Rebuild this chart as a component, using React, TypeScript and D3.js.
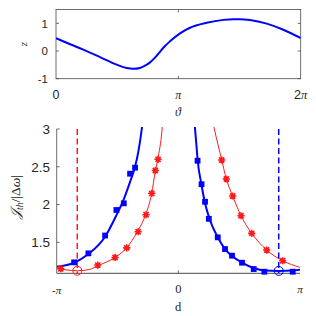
import * as d3 from "d3";

// top panel: z(θ)
const thetaVals = [0, 0.274, 0.702, 1.13, 1.558, 1.815, 1.985, 2.157, 2.285, 2.414, 2.542, 2.67, 2.799, 2.927, 3.184, 3.441, 3.87, 4.296, 4.555, 4.724, 4.98, 5.41, 5.837, 6.283];
const zVals = [0.46, 0.3, 0.05, -0.218, -0.493, -0.615, -0.64, -0.61, -0.53, -0.41, -0.24, -0.03, 0.18, 0.35, 0.64, 0.84, 1.02, 1.125, 1.15, 1.15, 1.12, 0.99, 0.77, 0.468];

// bottom panel: theory curves
const blueLeftD = [-3.142, -2.692, -2.323, -1.892, -1.608, -1.402, -1.247, -1.118, -1.033, -0.945, -0.9];
const blueLeftV = [1.177, 1.23, 1.345, 1.574, 1.85, 2.08, 2.3, 2.5, 2.7, 3.0, 3.2];
const blueRightD = [0.4, 0.431, 0.466, 0.5, 0.594, 0.681, 0.8, 1.017, 1.205, 1.386, 1.644, 1.946, 2.22, 2.592, 2.953, 3.142];
const blueRightV = [3.2, 3.0, 2.79, 2.58, 2.272, 2.037, 1.818, 1.566, 1.411, 1.319, 1.232, 1.16, 1.127, 1.122, 1.127, 1.136];
const redLeftD = [-3.142, -2.9, -2.61, -2.3, -2.08, -1.634, -1.332, -1.06, -0.843, -0.687, -0.602, -0.532, -0.42, -0.39];
const redLeftV = [1.16, 1.135, 1.124, 1.14, 1.19, 1.3, 1.43, 1.64, 1.87, 2.15, 2.42, 2.6, 3.0, 3.2];
const redRightD = [0.88, 0.93, 1.12, 1.239, 1.404, 1.618, 1.895, 2.282, 2.695, 3.142];
const redRightV = [3.12, 3.0, 2.59, 2.338, 2.113, 1.852, 1.619, 1.398, 1.256, 1.169];

// bottom panel: simulation markers
const squareD = [-2.692, -2.323, -1.892, -1.6, -1.409, -1.247, -1.118, 0.496, 0.599, 0.689, 0.787, 1.017, 1.205, 1.386, 1.644, 1.946, 2.22, 2.953];
const squareV = [1.235, 1.354, 1.59, 1.928, 2.016, 2.408, 2.488, 2.58, 2.269, 2.037, 1.811, 1.566, 1.411, 1.323, 1.23, 1.146, 1.111, 1.111];
const starD = [-3.036, -2.081, -1.634, -1.332, -1.04, -0.834, -0.687, -0.594, -0.524, 1.12, 1.239, 1.404, 1.618, 1.895, 2.282, 2.695];
const starV = [1.15, 1.199, 1.299, 1.427, 1.64, 1.865, 2.149, 2.451, 2.599, 2.59, 2.338, 2.113, 1.852, 1.619, 1.398, 1.256];

// minima (circles + dashed lines)
const redMin = { d: -2.61, v: 1.124 };
const blueMin = { d: 2.592, v: 1.122 };

const yTicksTop = [-1, 0, 1];
const yTicksBottom = [1.5, 2, 2.5, 3];

const BLUE = "#0000ff";
const RED = "#ff1a1a";
const AX = "#4a4a4a";
const TXT = "#262626";
const sans = "'Liberation Sans', Arial, sans-serif";
const serif = "'Liberation Serif', 'DejaVu Serif', serif";

const App = () => {
  // top panel scales
  const xT = d3.scaleLinear().domain([0, 2 * Math.PI]).range([56, 300.7]);
  const yT = d3.scaleLinear().domain([-1, 1.5]).range([78.7, 9.5]);
  // bottom panel scales
  const xB = d3.scaleLinear().domain([-Math.PI, Math.PI]).range([56.7, 300]);
  const yB = d3.scaleLinear().domain([1.09, 3]).range([273.3, 129]);

  const topLine = d3
    .line<number>()
    .x((d, i) => xT(thetaVals[i]))
    .y((d) => yT(d))
    .curve(d3.curveMonotoneX);

  const branch = (ds: number[], vs: number[]) =>
    d3
      .line<number>()
      .x((d, i) => xB(ds[i]))
      .y((d) => yB(d))
      .curve(d3.curveMonotoneX)(vs) as string;

  const star = (r: number) => {
    const a = r * 0.72;
    return `M${-r},0L${r},0M0,${-r}L0,${r}M${-a},${-a}L${a},${a}M${-a},${a}L${a},${-a}`;
  };

  return (
    <svg width={316} height={316} style={{ position: "absolute", left: 0, top: 0 }}>
      <defs>
        <clipPath id="clipTop">
          <rect x={56} y={9.5} width={244.7} height={69.2} />
        </clipPath>
        <clipPath id="clipBot">
          <rect x={56.7} y={127} width={243.3} height={146.3} />
        </clipPath>
      </defs>
      <rect width={316} height={316} fill="#fff" />

      {/* ---------- top panel ---------- */}
      <rect x={56} y={9.5} width={244.7} height={69.2} fill="none" stroke={AX} strokeWidth={0.8} />
      {yTicksTop.map((t) => (
        <g key={t}>
          <line x1={56} x2={59} y1={yT(t)} y2={yT(t)} stroke={AX} strokeWidth={0.8} />
          <line x1={300.7} x2={297.7} y1={yT(t)} y2={yT(t)} stroke={AX} strokeWidth={0.8} />
          <text x={48} y={yT(t) + 4.2} fontSize={11.5} fontFamily={sans} textAnchor="end" fill={TXT}>
            {t}
          </text>
        </g>
      ))}
      {[Math.PI].map((t) => (
        <g key={t}>
          <line x1={xT(t)} x2={xT(t)} y1={78.7} y2={75.7} stroke={AX} strokeWidth={0.8} />
          <line x1={xT(t)} x2={xT(t)} y1={9.5} y2={12.5} stroke={AX} strokeWidth={0.8} />
        </g>
      ))}
      <text x={xT(0)} y={99} fontSize={12.5} fontFamily={sans} textAnchor="middle" fill={TXT}>0</text>
      <text x={xT(Math.PI)} y={98.5} fontSize={12} fontFamily={serif} fontStyle="italic" textAnchor="middle" fill={TXT}>π</text>
      <text x={xT(2 * Math.PI)} y={99} fontSize={12.5} fontFamily={sans} textAnchor="middle" fill={TXT}>
        2<tspan fontFamily={serif} fontStyle="italic">π</tspan>
      </text>
      <text x={178} y={115.5} fontSize={12} fontFamily={serif} fontStyle="italic" textAnchor="middle" fill={TXT}>ϑ</text>
      <text transform="translate(27,44) rotate(-90)" fontSize={11} fontFamily={serif} fontStyle="italic" textAnchor="middle" fill={TXT}>z</text>
      <path d={topLine(zVals) as string} fill="none" stroke={BLUE} strokeWidth={2} clipPath="url(#clipTop)" />

      {/* ---------- bottom panel ---------- */}
      <line x1={56.7} x2={56.7} y1={129} y2={273.3} stroke={AX} strokeWidth={0.8} />
      <line x1={56.7} x2={300} y1={273.3} y2={273.3} stroke={AX} strokeWidth={1} />
      {yTicksBottom.map((t) => (
        <g key={t}>
          <line x1={56.7} x2={59.7} y1={yB(t)} y2={yB(t)} stroke={AX} strokeWidth={0.8} />
          <text x={50} y={yB(t) + 4.8} fontSize={13.5} fontFamily={sans} textAnchor="end" fill={TXT}>
            {t}
          </text>
        </g>
      ))}
      <line x1={xB(0)} x2={xB(0)} y1={273.3} y2={270.3} stroke={AX} strokeWidth={0.8} />
      <text x={xB(-Math.PI)} y={294} fontSize={11} fontFamily={serif} textAnchor="middle" fill={TXT}>
        -<tspan fontStyle="italic">π</tspan>
      </text>
      <text x={xB(0)} y={293} fontSize={12.5} fontFamily={serif} textAnchor="middle" fill={TXT}>0</text>
      <text x={xB(Math.PI)} y={293} fontSize={11} fontFamily={serif} fontStyle="italic" textAnchor="middle" fill={TXT}>π</text>
      <text x={178} y={311} fontSize={12.5} fontFamily={serif} textAnchor="middle" fill={TXT}>d</text>
      <text transform="translate(20,197) rotate(-90)" fontSize={13.5} fontFamily={serif} textAnchor="middle" fill={TXT}>
        <tspan fontStyle="italic">𝒥</tspan>
        <tspan fontStyle="italic" fontSize={9.5} dy={3}>th</tspan>
        <tspan dy={-3}>/|Δ</tspan>
        <tspan fontStyle="italic">ω</tspan>
        <tspan>|</tspan>
      </text>

      <g clipPath="url(#clipBot)">
        <path d={branch(blueLeftD, blueLeftV)} fill="none" stroke={BLUE} strokeWidth={2} />
        <path d={branch(blueRightD, blueRightV)} fill="none" stroke={BLUE} strokeWidth={2} />
        <path d={branch(redLeftD, redLeftV)} fill="none" stroke={RED} strokeWidth={1} />
        <path d={branch(redRightD, redRightV)} fill="none" stroke={RED} strokeWidth={1} />
      </g>

      <line x1={xB(redMin.d)} x2={xB(redMin.d)} y1={yB(3)} y2={yB(1.09)} stroke={RED} strokeWidth={1.5} strokeDasharray="6,3.5" />
      <line x1={xB(blueMin.d)} x2={xB(blueMin.d)} y1={yB(3)} y2={yB(1.09)} stroke={BLUE} strokeWidth={1.5} strokeDasharray="6,3.5" />

      {squareV.map((v, i) => (
        <rect key={"s" + i} x={xB(squareD[i]) - 2.9} y={yB(v) - 2.9} width={5.8} height={5.8} fill={BLUE} />
      ))}
      {starV.map((v, i) => (
        <g key={"a" + i} transform={`translate(${xB(starD[i])},${yB(v)})`}>
          <path d={star(3.6)} stroke={RED} strokeWidth={1.6} fill="none" />
          <circle r={2} fill={RED} />
        </g>
      ))}

      <circle cx={xB(redMin.d)} cy={yB(redMin.v)} r={4.5} fill="none" stroke={RED} strokeWidth={1} />
      <circle cx={xB(blueMin.d)} cy={yB(blueMin.v)} r={4.5} fill="none" stroke={BLUE} strokeWidth={1} />
    </svg>
  );
};

export default App;
